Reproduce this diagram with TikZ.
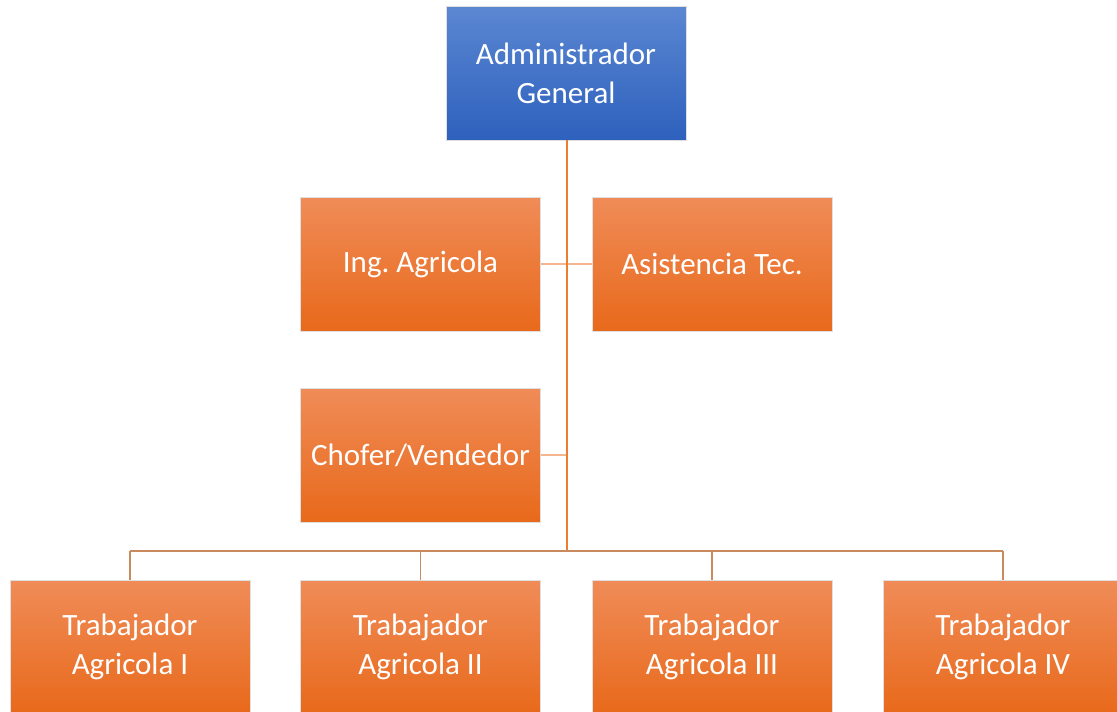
\documentclass[tikz,border=0pt]{standalone}
\usepackage{fontspec}
\setmainfont{Carlito}
\usepackage{tikz}
\usetikzlibrary{calc,positioning}
\definecolor{bluetop}{HTML}{5B87D2}
\definecolor{bluebot}{HTML}{2E61BD}
\definecolor{orgtop}{HTML}{F08C58}
\definecolor{orgbot}{HTML}{E8691B}
\definecolor{trunkc}{HTML}{ED7D31}
\definecolor{lightc}{HTML}{F4B68C}
\definecolor{busc}{HTML}{C98A5E}
\frenchspacing
\tikzset{
  unit/.style={minimum width=240pt,minimum height=134pt,inner sep=0pt,align=center,text=white,
    font=\fontsize{31}{39}\selectfont,draw=gray!25,line width=0.6pt},
  boss/.style={unit,top color=bluetop,bottom color=bluebot},
  dept/.style={unit,top color=orgtop,bottom color=orgbot},
  trunk/.style={trunkc,line width=1.6pt},
  side/.style={lightc,line width=2.2pt},
  bus/.style={busc,line width=1.6pt}
}

\begin{document}
\begin{tikzpicture}[x=1pt,y=-1pt]
\useasboundingbox (0,0) rectangle (1117,712);
\clip (0,0) rectangle (1117,712);
% staff
\node[boss] (admin) at (566,73) {Administrador\\General};
\node[dept] (ing) at (420.5,264) {Ing. Agricola};
\node[dept] (asist) at (712,264) {Asistencia Tec.};
\node[dept] (chofer) at (420.5,455) {Chofer/Vendedor};
% workers
\node[dept] (t1) at (130,647) {Trabajador\\Agricola I};
\node[dept] (t2) at (420.5,647) {Trabajador\\Agricola II};
\node[dept] (t3) at (712,647) {Trabajador\\Agricola III};
\node[dept] (t4) at (1003,647) {Trabajador\\Agricola IV};
\coordinate (hub) at (567,551);
% links
\draw[side] (ing.east) -- (asist.west);
\draw[side] (chofer.east) -- (chofer.east -| hub);
\draw[trunk] (admin.south -| hub) -- (hub);
\draw[bus] (t1.north |- hub) -- (t4.north |- hub);
\foreach \w in {t1,t2,t3,t4}{\draw[bus] (\w.north |- hub) -- (\w.north);}
\end{tikzpicture}
\end{document}
